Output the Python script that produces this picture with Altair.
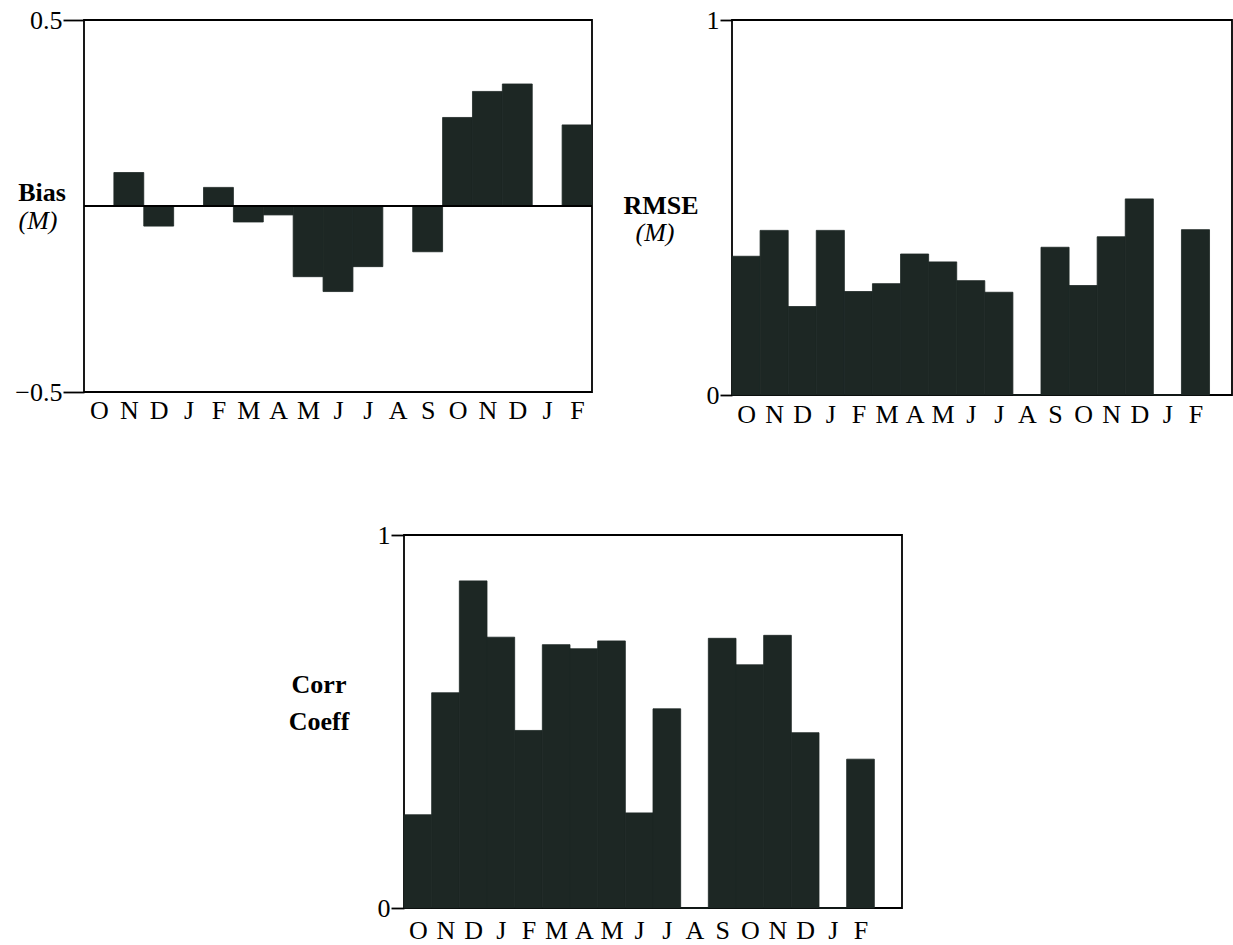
import altair as alt
import pandas as pd

# Month sequence shared by all three panels (Oct .. Feb of the following year)
months = ["O", "N", "D", "J", "F", "M", "A", "M", "J", "J", "A", "S", "O", "N", "D", "J", "F"]

# Monthly verification statistics
bias = [0.0, 0.090, -0.054, 0.0, 0.050, -0.043, -0.024, -0.190, -0.230, -0.163,
        0.0, -0.123, 0.238, 0.308, 0.328, 0.0, 0.218]
rmse = [0.370, 0.439, 0.236, 0.439, 0.276, 0.297, 0.376, 0.355, 0.305, 0.274,
        0.0, 0.394, 0.292, 0.422, 0.523, 0.0, 0.441]
corr = [0.250, 0.577, 0.877, 0.726, 0.476, 0.706, 0.695, 0.716, 0.255, 0.534,
        0.0, 0.723, 0.652, 0.731, 0.470, 0.0, 0.399]

SERIF = "Liberation Serif"
BAR = "#1d2724"
FS = 26

month_expr = "[" + ",".join(f"'{m}'" for m in months) + "][floor(datum.value)]"


def side_label(text, x, y, bold=True, italic=False):
    mark = dict(font=SERIF, fontSize=FS, color="black", align="center", baseline="middle")
    if bold:
        mark["fontWeight"] = "bold"
    if italic:
        mark["fontStyle"] = "italic"
    return alt.Chart(pd.DataFrame({"label": [text]})).mark_text(**mark).encode(
        text="label:N", x=alt.value(x), y=alt.value(y)
    )


def panel(values, n_slots, width, height, y_dom, y_ticks, y_fmt, tick_size, x_pad, labels, zero_rule=False):
    df = pd.DataFrame({
        "month": months,
        "start": list(range(len(months))),
        "end": list(range(1, len(months) + 1)),
        "value": values,
    })
    x_enc = alt.X(
        "start:Q",
        scale=alt.Scale(domain=[0, n_slots], nice=False, zero=False),
        axis=alt.Axis(
            values=[i + 0.5 for i in range(len(months))],
            labelExpr=month_expr,
            ticks=False, domain=False, grid=False,
            labelFont=SERIF, labelFontSize=FS, labelColor="black",
            labelPadding=x_pad, labelOverlap=False, labelFlush=False,
        ),
        title=None,
    )
    y_enc = alt.Y(
        "value:Q",
        scale=alt.Scale(domain=y_dom, nice=False, zero=False),
        axis=alt.Axis(
            values=y_ticks, format=y_fmt,
            tickSize=tick_size, tickColor="black", tickWidth=1.8,
            domain=False, grid=False,
            labelFont=SERIF, labelFontSize=FS, labelColor="black", labelPadding=1,
        ),
        title=None,
    )
    bars = alt.Chart(df).mark_bar(color=BAR, stroke=BAR, strokeWidth=0.8).encode(
        x=x_enc, x2="end:Q", y=y_enc, y2=alt.datum(0)
    )
    layers = [bars]
    if zero_rule:
        layers.append(
            alt.Chart(pd.DataFrame({"z": [0]})).mark_rule(color="black", strokeWidth=1.8).encode(y="z:Q")
        )
    layers += [side_label(*lab) for lab in labels]
    return alt.layer(*layers).properties(width=width, height=height)


bias_chart = panel(
    bias, 17, 508, 372, [-0.5, 0.5], [-0.5, 0.5], ".1f", 21, 5,
    [("Bias", -42, 173), ("(M)", -46, 201, False, True)],
    zero_rule=True,
)
# RMSE frame runs to the right edge of the page, leaving an empty slot after the last bar
rmse_chart = panel(
    rmse, 17.8, 500, 375, [0, 1], [0, 1], "d", 12, 6,
    [("RMSE", -71, 186), ("(M)", -77, 213, False, True)],
)
corr_chart = panel(
    corr, 18, 498, 373, [0, 1], [0, 1], "d", 13, 9,
    [("Corr", -85, 150), ("Coeff", -85, 187)],
)

spacer = alt.Chart(pd.DataFrame({"s": [0]}), view=alt.ViewBackground(stroke="transparent")).mark_point(
    opacity=0
).encode(x=alt.value(0), y=alt.value(0)).properties(width=320, height=10)

top = alt.hconcat(bias_chart, rmse_chart, spacing=140, bounds="flush")
bottom = alt.hconcat(spacer, corr_chart, spacing=0, bounds="flush")

chart = alt.vconcat(top, bottom, spacing=93).properties(
    padding={"left": 13, "top": 6, "right": 0, "bottom": 0},
    background="white",
).configure_view(stroke="black", strokeWidth=1.8)

chart.save("out.html", embed_options={"renderer": "svg", "actions": False})
